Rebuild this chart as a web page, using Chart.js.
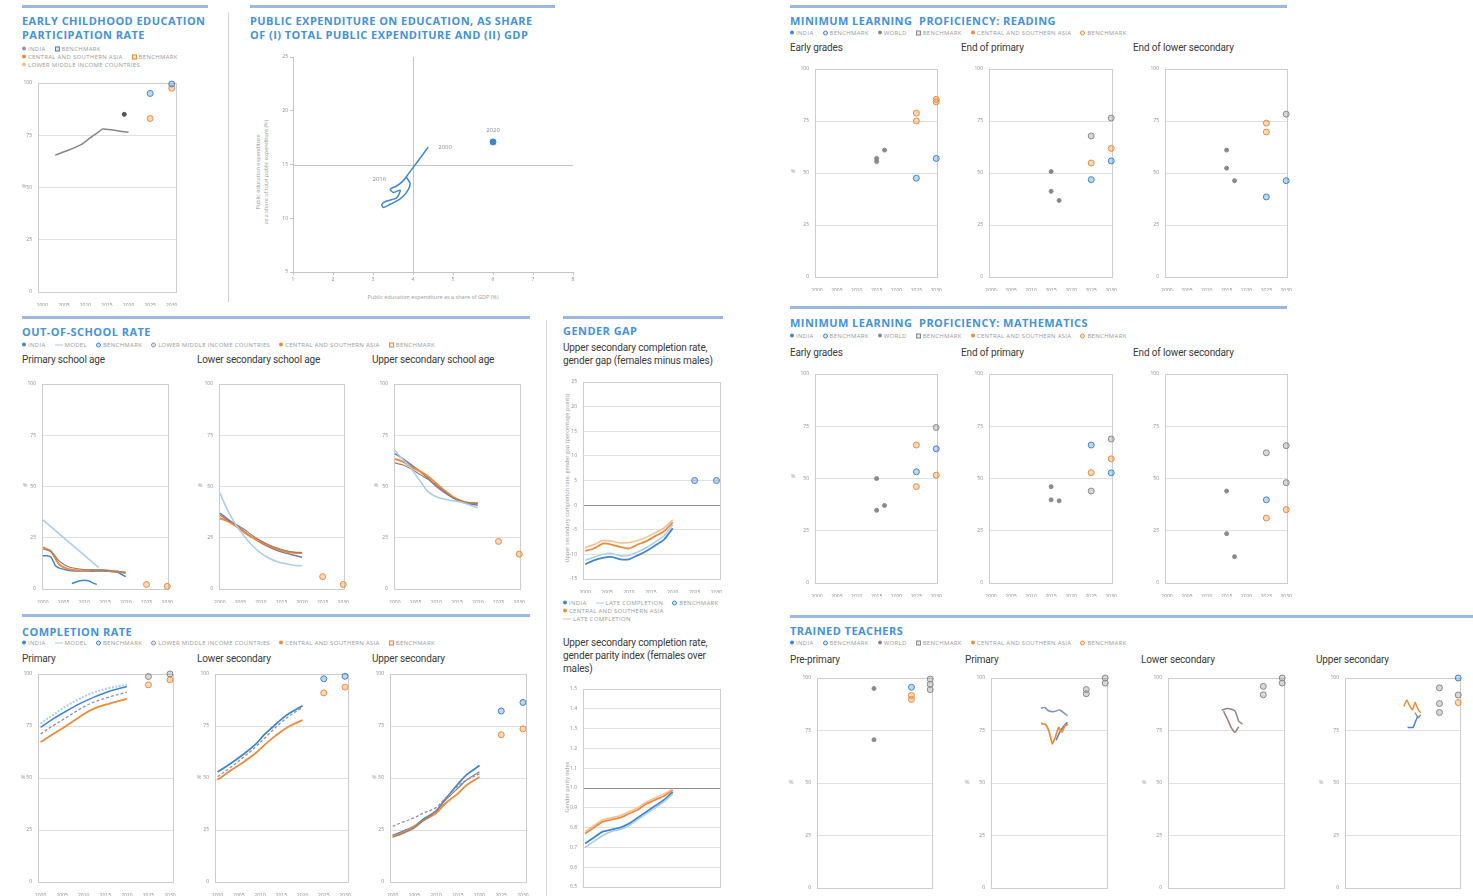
<!DOCTYPE html>
<html>
<head>
<meta charset="utf-8">
<title>SDG 4 country profile</title>
<script src="https://cdn.jsdelivr.net/npm/chart.js@4.4.0/dist/chart.umd.min.js"></script>
<style>
  html, body { margin: 0; padding: 0; background: #fff; }
  body { position: relative; width: 1473px; height: 896px; overflow: hidden; }
  canvas { position: absolute; }
  .bar { position: absolute; height: 3px; background: #9bb9e0; }
  .vr { position: absolute; width: 1px; background: #d6d6d6; }
  .tx { position: absolute; white-space: nowrap; transform: translateY(-50%); }
  .cx { position: absolute; white-space: nowrap; transform: translate(-50%, -50%); }
  .vt { position: absolute; white-space: nowrap; transform: translate(-50%, -50%) rotate(-90deg); }
  .ttl { font: 700 11px/13px "Open Sans", sans-serif; color: #4393dc; letter-spacing: .45px; }
  .sub { font: 10px/12px Roboto, sans-serif; color: #3a3a3a; letter-spacing: -.15px; }
  .lg { font: 6px/7px "Open Sans", sans-serif; color: #9a9a9a; letter-spacing: .3px; }
  .lg span { margin-right: 9px; }
  .lg i { display: inline-block; vertical-align: middle; margin-right: 2px; }
  .d { width: 4px; height: 4px; border-radius: 50%; }
  .q { width: 3px; height: 3px; border: 1px solid; }
  .o { width: 3px; height: 3px; border: 1px solid; border-radius: 50%; }
  .l { width: 8px; height: 1px; }
  .ax { font: 5.5px/6px "Open Sans", sans-serif; color: #9a9a9a; }
</style>
</head>
<body>
<script>
// ---- axes ----
const yearTicks = [2000, 2005, 2010, 2015, 2020, 2025, 2030];
const pctTicks = [0, 25, 50, 75, 100];
const benchYears = [2025, 2030];

// ---- early childhood education participation rate ----
const ecYears = [2003, 2006, 2009, 2010, 2011, 2013, 2014, 2016, 2018, 2020];
const ecIndia = [65.5, 67.8, 70.5, 72, 73.6, 76.5, 78, 77.6, 76.9, 76.4];
const ecLmicYears = [2019];
const ecLmic = [85];
const ecBenchIndia = [95, 99.5];
const ecBenchRegion = [83, 97.5];

// ---- public expenditure (% of GDP vs % of total public expenditure) ----
const expGdp = [4.38, 3.88, 3.76, 3.59, 3.43, 3.51, 3.68, 3.59, 3.34, 3.22, 3.26, 3.43, 3.68, 3.84, 3.93, 3.84];
const expTotal = [16.6, 14.1, 13.5, 13.0, 12.7, 12.4, 12.6, 11.9, 11.6, 11.3, 11.0, 11.3, 11.8, 12.4, 13.2, 13.8];
const expLatestGdp = [6.0];
const expLatestTotal = [17.1];
const expXTicks = [1, 2, 3, 4, 5, 6, 7, 8];
const expYTicks = [5, 10, 15, 20, 25];
const expRefGdp = 4;
const expRefTotal = 15;
const expLabelText = ['2000', '2016', '2020'];

// ---- minimum proficiency: reading (grey = world, blue = India, orange = region) ----
const rdEarlyWorldYears = [2015, 2015, 2017];
const rdEarlyWorld = [57, 55.5, 61];
const rdEarlyIndia = [47.5, 57];
const rdEarlyRegionYears = [2025, 2025, 2030, 2030];
const rdEarlyRegion = [78.8, 75, 85.4, 84.2];

const rdPrimWorldYears = [2015, 2015, 2017, 2025, 2030];
const rdPrimWorld = [50.7, 41.2, 36.8, 67.8, 76.4];
const rdPrimIndia = [46.8, 55.8];
const rdPrimRegion = [54.8, 61.8];

const rdLowWorldYears = [2015, 2015, 2017, 2030];
const rdLowWorld = [61, 52.3, 46.3, 78.3];
const rdLowIndia = [38.5, 46.3];
const rdLowRegionYears = [2025, 2025];
const rdLowRegion = [74, 69.7];

// ---- minimum proficiency: mathematics ----
const mtEarlyWorldYears = [2015, 2015, 2017, 2030];
const mtEarlyWorld = [50, 34.8, 37.1, 74.4];
const mtEarlyIndia = [53.2, 64.2];
const mtEarlyRegionYears = [2025, 2025, 2030];
const mtEarlyRegion = [66, 46.1, 51.6];

const mtPrimWorldYears = [2015, 2015, 2017, 2025, 2030];
const mtPrimWorld = [46.1, 39.8, 39.3, 44, 68.9];
const mtPrimIndia = [66, 52.7];
const mtPrimRegion = [52.8, 59.4];

const mtLowWorldYears = [2015, 2015, 2017, 2025, 2030, 2030];
const mtLowWorld = [44, 23.6, 12.6, 62.3, 65.7, 48];
const mtLowIndiaYears = [2025];
const mtLowIndia = [39.8];
const mtLowRegion = [31.1, 35.1];

// ---- out-of-school rate ----
const oosPriYears = [2000, 2001, 2002, 2003, 2004, 2006, 2008, 2010, 2012, 2014, 2016, 2018, 2020];
const oosPriIndia = [16.2, 16.2, 15.5, 11.5, 10.2, 9.2, 8.8, 8.8, 8.7, 8.8, 8.6, 8.2, 6.0];
const oosPriRegion = [20.4, 19.5, 18.4, 15.0, 11.8, 9.8, 9.2, 9.0, 9.1, 9.3, 8.9, 8.5, 7.8];
const oosPriLmic = [19.5, 19, 18, 16, 13.5, 11, 10, 9.5, 9.3, 9.2, 9, 8.6, 8.2];
const oosPriModelYears = [2000, 2013.5];
const oosPriModel = [33.7, 10.4];
const oosPriSurveyYears = [2007, 2008, 2009, 2010, 2011, 2012, 2013];
const oosPriSurvey = [2.6, 3.4, 4.0, 4.3, 4.0, 3.0, 2.2];
const oosPriBench = [2.2, 1.3];

const oosYears = [2000, 2002, 2004, 2006, 2008, 2010, 2012, 2014, 2016, 2018, 2020];
const oosLowModel = [46.9, 38, 31, 25.5, 21, 17.5, 15, 13.3, 12.3, 11.6, 11.3];
const oosLowIndia = [37, 34, 31, 28, 25, 22.5, 20.5, 18.8, 17.5, 16.5, 15.5];
const oosLowRegion = [34.5, 33, 30.5, 27.5, 25, 23, 21, 19.5, 18.3, 17.7, 17.5];
const oosLowLmic = [36, 33.5, 31.5, 29, 26, 23.5, 21.5, 20, 18.8, 18, 17.8];
const oosLowBench = [6, 2.2];

const oosUppModel = [67.6, 63, 58.5, 53, 47.5, 45, 43.8, 43, 42.3, 41, 39.5];
const oosUppIndia = [66, 63.5, 60.5, 57.5, 54, 50, 47, 44.5, 42.5, 41.5, 41];
const oosUppRegion = [63.5, 62, 59.5, 57.5, 55, 51.5, 48, 45, 43, 42, 42];
const oosUppLmic = [61.5, 60.5, 58.5, 56, 53.5, 50.5, 47.5, 44.5, 43, 42, 41.5];
const oosUppBench = [23.2, 17];

// ---- completion rate ----
const cmpPriYears = [2000, 2003, 2006, 2009, 2012, 2016, 2020];
const cmpPriModel = [76.2, 80.5, 84.6, 88, 90.9, 93.3, 94.8];
const cmpPriIndia = [74.3, 78.5, 82.2, 85.6, 88.5, 91.7, 94];
const cmpPriLmic = [71.2, 75.3, 79.1, 83, 86.2, 89, 91.2];
const cmpPriRegion = [67.3, 71.3, 75.1, 79.3, 83, 85.8, 88];
const cmpPriBenchIndia = [98.8, 100];
const cmpPriBenchRegion = [94.8, 97.2];

const cmpLowYears = [2000, 2003, 2006, 2009, 2011, 2013, 2015, 2017, 2020];
const cmpLowIndia = [52.9, 56.8, 61.3, 66.3, 70.8, 74.5, 78.2, 81.2, 84.7];
const cmpLowLmic = [50.6, 55, 59.8, 65, 69, 73, 76.8, 80, 84];
const cmpLowRegion = [49.1, 53.5, 57.5, 62, 65.8, 69.3, 72.4, 75, 77.8];
const cmpLowBenchIndia = [97.7, 98.9];
const cmpLowBenchRegion = [90.9, 93.7];

const cmpUppYears = [2000, 2002, 2005, 2007, 2010, 2012, 2015, 2017, 2020];
const cmpUppIndia = [22.4, 24, 26.8, 30, 34.2, 39.5, 47, 51.5, 56];
const cmpUppLmic = [26.8, 28.5, 30.9, 33, 35.8, 40, 46, 49, 52];
const cmpUppRegion = [22, 23.5, 26.5, 29.5, 33, 37.5, 42.5, 46.5, 50.5];
const cmpUppModel = [21.5, 23, 26, 29.5, 34, 39, 45, 49, 53];
const cmpUppBenchIndia = [82.2, 86.3];
const cmpUppBenchRegion = [70.8, 73.6];

// ---- gender gap ----
const ggYears = [2000, 2002, 2004, 2006, 2008, 2010, 2012, 2014, 2016, 2018, 2020];
const ggTicks = [-15, -10, -5, 0, 5, 10, 15, 20, 25];
const ggIndia = [-12, -11.2, -10.7, -10.5, -11, -11, -10.2, -9.3, -8.2, -7, -4.7];
const ggIndiaLate = [-11.2, -10.6, -10, -9.8, -10.3, -10.2, -9.5, -8.6, -7.5, -6.2, -4];
const ggRegion = [-9.3, -8.8, -7.8, -8, -8.5, -8.8, -8, -7.3, -6.3, -5.3, -3.5];
const ggRegionLate = [-8.6, -8, -7.2, -7.3, -7.7, -7.6, -7.2, -6.5, -5.6, -4.6, -3];
const ggBench = [5, 5];

const gpiTicks = [0.5, 0.6, 0.7, 0.8, 0.9, 1.0, 1.1, 1.2, 1.3, 1.4, 1.5];
const gpiIndia = [0.72, 0.75, 0.78, 0.79, 0.80, 0.82, 0.85, 0.88, 0.91, 0.94, 0.98];
const gpiIndiaLate = [0.70, 0.73, 0.76, 0.78, 0.79, 0.81, 0.84, 0.87, 0.90, 0.93, 0.97];
const gpiRegion = [0.77, 0.80, 0.83, 0.84, 0.85, 0.87, 0.89, 0.92, 0.94, 0.96, 0.99];
const gpiRegionLate = [0.78, 0.81, 0.84, 0.85, 0.86, 0.88, 0.90, 0.93, 0.95, 0.97, 0.995];

// ---- trained teachers ----
const tchPreWorldYears = [2015, 2015, 2030, 2030, 2030];
const tchPreWorld = [95, 70.6, 99.5, 97, 94.5];
const tchPreIndiaYears = [2025];
const tchPreIndia = [95.6];
const tchPreRegionYears = [2025, 2025];
const tchPreRegion = [91.7, 89.8];

const tchPriWorldYears = [2013, 2014, 2015, 2016.5, 2018, 2020];
const tchPriWorld = [85.6, 86, 84.4, 84, 84.8, 82];
const tchPriRegionYears = [2013, 2014.3, 2015.1, 2016, 2016.8, 2017.7, 2018.5, 2019.4, 2020.2];
const tchPriRegion = [78.4, 77.8, 74.9, 68.7, 71.8, 76.5, 74.2, 77.3, 78];
const tchPriIndiaYears = [2017, 2018, 2019, 2020];
const tchPriIndia = [70.4, 74.2, 77, 78.9];
const tchPriBenchYears = [2025, 2025, 2030, 2030];
const tchPriBench = [94.5, 92.5, 100, 97.6];

const tchLowWorldYears = [2014, 2015.5, 2017.5, 2018.5, 2019.5];
const tchLowWorld = [84.6, 85.5, 84.3, 79.5, 78];
const tchLowIndiaYears = [2014.5, 2015.5, 2016.5, 2017.5, 2018.5];
const tchLowIndia = [84.2, 80.5, 76.5, 74.2, 76.8];
const tchLowBenchYears = [2025, 2025, 2030, 2030];
const tchLowBench = [96, 92, 100, 97.6];

const tchUppRegionYears = [2015.5, 2016.3, 2017, 2017.8, 2018.5, 2019.3, 2020];
const tchUppRegion = [86.5, 89.5, 87, 84.8, 88.5, 85, 83.5];
const tchUppIndiaYears = [2016.5, 2018, 2018.7, 2019.3];
const tchUppIndia = [76.5, 76.5, 79.7, 82];
const tchUppWorldYears = [2018.5, 2019.3, 2020];
const tchUppWorld = [83.5, 81, 82.5];
const tchUppBenchWorldYears = [2025, 2025, 2025, 2030];
const tchUppBenchWorld = [95.3, 87.8, 83.6, 91.9];
const tchUppBenchIndiaYears = [2030];
const tchUppBenchIndia = [100];
const tchUppBenchRegionYears = [2030];
const tchUppBenchRegion = [88.3];

// ---- colours ----
const C = {
  india: '#3f86d0', model: '#a8cdef', lmic: '#8e8fb8', region: '#ef8a3b',
  regionLt: '#f6bf93', world: '#8a8a8a', brown: '#9a7e70', blueGrey: '#7d93b5'
};

Chart.defaults.font.family = 'Open Sans';
Chart.defaults.font.size = 5;
Chart.defaults.color = '#8c8c8c';
Chart.defaults.animation = false;
Chart.defaults.plugins.legend.display = false;
Chart.defaults.plugins.tooltip.enabled = false;

const PL = 24, PT = 6, PR = 6, PB = 14;
const pts = (xs, ys) => xs.map((x, i) => ({ x: x, y: ys[i] }));

function line(xs, ys, color, w, dash, tension) {
  return {
    data: pts(xs, ys), showLine: true, clip: false, fill: false,
    borderColor: color, borderWidth: w || 1.5, borderDash: dash || [],
    pointRadius: 0, tension: tension === undefined ? 0.35 : tension
  };
}

function dots(xs, ys, color) {
  const isBench = c => c.raw && c.raw.x >= 2025;
  return {
    data: pts(xs, ys), showLine: false, clip: false,
    pointRadius: c => (isBench(c) ? 3 : 2),
    pointBackgroundColor: c => (isBench(c) ? color + '55' : color),
    pointBorderColor: color, pointBorderWidth: 1
  };
}

const framePlugin = {
  id: 'frame',
  beforeDatasetsDraw(chart) {
    const a = chart.chartArea, g = chart.ctx;
    g.save();
    g.strokeStyle = '#cdcdcd';
    g.lineWidth = 1;
    g.strokeRect(Math.round(a.left) + 0.5, Math.round(a.top) + 0.5, Math.round(a.width), Math.round(a.height));
    g.restore();
  }
};

function makeCanvas(box) {
  const cv = document.createElement('canvas');
  cv.width = box[2] - box[0] + PL + PR;
  cv.height = box[3] - box[1] + PT + PB;
  cv.style.left = (box[0] - PL) + 'px';
  cv.style.top = (box[1] - PT) + 'px';
  document.body.appendChild(cv);
  return cv;
}

function plot(box, datasets, o) {
  o = o || {};
  const yT = o.yTicks || pctTicks;
  const xT = o.xTicks || yearTicks;
  return new Chart(makeCanvas(box), {
    type: 'scatter',
    data: { datasets: datasets },
    options: {
      responsive: false,
      layout: { padding: { left: 0, top: PT, right: PR, bottom: 0 } },
      scales: {
        x: {
          type: 'linear', min: o.xMin, max: o.xMax,
          afterBuildTicks: s => { s.ticks = xT.map(v => ({ value: v })); },
          afterFit: s => { s.height = PB; },
          grid: { display: false }, border: { display: false },
          ticks: { padding: 3, maxRotation: 0, autoSkip: false, callback: v => String(v) }
        },
        y: {
          type: 'linear', min: yT[0], max: yT[yT.length - 1],
          afterBuildTicks: s => { s.ticks = yT.map(v => ({ value: v })); },
          afterFit: s => { s.width = PL; },
          grid: {
            drawTicks: false,
            color: c => (o.zero !== undefined && c.tick && Math.abs(c.tick.value - o.zero) < 1e-9) ? '#8f8f8f' : '#e0e0e0'
          },
          border: { display: false },
          ticks: { padding: 6, autoSkip: false, callback: o.yFmt || (v => String(v)) }
        }
      }
    },
    plugins: [framePlugin]
  });
}

// ---- page text helpers ----
function T(x, y, cls, html, extra) {
  const d = document.createElement('div');
  d.className = cls;
  d.style.left = x + 'px';
  d.style.top = y + 'px';
  if (extra) d.style.cssText += extra;
  d.innerHTML = html;
  document.body.appendChild(d);
  return d;
}
function box(cls, x, y, w, h) {
  const d = document.createElement('div');
  d.className = cls;
  d.style.left = x + 'px'; d.style.top = y + 'px';
  if (w) d.style.width = w + 'px';
  if (h) d.style.height = h + 'px';
  document.body.appendChild(d);
}
function legend(x, y, items) {
  const html = items.map(it => {
    const st = it[0] === 'd' || it[0] === 'l' ? 'background:' + it[1] : 'border-color:' + it[1] + ';background:' + it[1] + '33';
    return '<span><i class="' + it[0] + '" style="' + st + '"></i>' + it[2] + '</span>';
  }).join('');
  T(x, y, 'tx lg', html);
}

// ---- section rules ----
box('bar', 22, 5, 186);
box('bar', 250, 5, 305);
box('bar', 790, 5, 497);
box('bar', 22, 316, 508);
box('bar', 563, 316, 160);
box('bar', 790, 306, 497);
box('bar', 22, 614, 508);
box('bar', 790, 615, 683);
box('vr', 228, 12, 0, 290);
box('vr', 546, 320, 0, 576);

// ---- titles ----
T(22, 20, 'tx ttl', 'EARLY CHILDHOOD EDUCATION');
T(22, 34, 'tx ttl', 'PARTICIPATION RATE');
T(250, 20, 'tx ttl', 'PUBLIC EXPENDITURE ON EDUCATION, AS SHARE');
T(250, 34, 'tx ttl', 'OF (I) TOTAL PUBLIC EXPENDITURE AND (II) GDP');
T(790, 20, 'tx ttl', 'MINIMUM LEARNING&nbsp; PROFICIENCY: READING');
T(790, 322, 'tx ttl', 'MINIMUM LEARNING&nbsp; PROFICIENCY: MATHEMATICS');
T(22, 331, 'tx ttl', 'OUT-OF-SCHOOL RATE');
T(563, 330, 'tx ttl', 'GENDER GAP');
T(22, 631, 'tx ttl', 'COMPLETION RATE');
T(790, 630, 'tx ttl', 'TRAINED TEACHERS');

// ---- legends ----
const legCountry = [['d', C.india, 'INDIA'], ['o', C.india, 'BENCHMARK'], ['d', C.world, 'WORLD'], ['q', C.world, 'BENCHMARK'],
  ['d', C.region, 'CENTRAL AND SOUTHERN ASIA'], ['o', C.region, 'BENCHMARK']];
const legTrend = [['d', C.india, 'INDIA'], ['l', C.model, 'MODEL'], ['o', C.india, 'BENCHMARK'], ['o', C.lmic, 'LOWER MIDDLE INCOME COUNTRIES'],
  ['d', C.region, 'CENTRAL AND SOUTHERN ASIA'], ['q', C.region, 'BENCHMARK']];
legend(22, 49, [['d', C.lmic, 'INDIA'], ['q', C.india, 'BENCHMARK']]);
legend(22, 57, [['d', C.region, 'CENTRAL AND SOUTHERN ASIA'], ['q', C.region, 'BENCHMARK']]);
legend(22, 65, [['d', C.regionLt, 'LOWER MIDDLE INCOME COUNTRIES']]);
legend(790, 33, legCountry);
legend(790, 336, legCountry);
legend(790, 643, legCountry);
legend(22, 345, legTrend);
legend(22, 643, legTrend);
legend(563, 603, [['d', C.india, 'INDIA'], ['l', C.model, 'LATE COMPLETION'], ['o', C.india, 'BENCHMARK']]);
legend(563, 611, [['d', C.region, 'CENTRAL AND SOUTHERN ASIA']]);
legend(563, 619, [['l', C.regionLt, 'LATE COMPLETION']]);

// ---- panel subtitles ----
T(790, 48, 'tx sub', 'Early grades');
T(961, 48, 'tx sub', 'End of primary');
T(1133, 48, 'tx sub', 'End of lower secondary');
T(790, 353, 'tx sub', 'Early grades');
T(961, 353, 'tx sub', 'End of primary');
T(1133, 353, 'tx sub', 'End of lower secondary');
T(22, 360, 'tx sub', 'Primary school age');
T(197, 360, 'tx sub', 'Lower secondary school age');
T(372, 360, 'tx sub', 'Upper secondary school age');
T(22, 659, 'tx sub', 'Primary');
T(197, 659, 'tx sub', 'Lower secondary');
T(372, 659, 'tx sub', 'Upper secondary');
T(790, 660, 'tx sub', 'Pre-primary');
T(965, 660, 'tx sub', 'Primary');
T(1141, 660, 'tx sub', 'Lower secondary');
T(1316, 660, 'tx sub', 'Upper secondary');
T(563, 348, 'tx sub', 'Upper secondary completion rate,');
T(563, 361, 'tx sub', 'gender gap (females minus males)');
T(563, 643, 'tx sub', 'Upper secondary completion rate,');
T(563, 656, 'tx sub', 'gender parity index (females over');
T(563, 669, 'tx sub', 'males)');

// ---- axis unit labels ----
[[24, 186], [793, 171], [793, 476], [25, 485], [200, 485], [376, 485], [23, 777], [199, 777], [374, 777],
  [791, 782], [967, 782], [1144, 782], [1321, 782]].forEach(p => T(p[0], p[1], 'cx ax', '%'));
T(433, 297, 'cx ax', 'Public education expenditure as a share of GDP (%)');
T(258, 172, 'vt ax', 'Public education expenditure');
T(266, 172, 'vt ax', 'as a share of total public expenditure (%)');
T(567, 478, 'vt ax', 'Upper secondary completion rate, gender gap (percentage points)');
T(567, 787, 'vt ax', 'Gender parity index');

// ---- early childhood ----
plot([38, 80, 176, 292], [
  line(ecYears, ecIndia, '#858585', 1.5, null, 0.2),
  dots(ecLmicYears, ecLmic, '#555555'),
  dots(benchYears, ecBenchIndia, C.india),
  dots(benchYears, ecBenchRegion, C.region)
], { xMin: 1999, xMax: 2031 });

// ---- public expenditure scatter ----
(function () {
  const refLines = {
    id: 'refLines',
    beforeDatasetsDraw(chart) {
      const a = chart.chartArea, g = chart.ctx;
      const x = Math.round(chart.scales.x.getPixelForValue(expRefGdp)) + 0.5;
      const y = Math.round(chart.scales.y.getPixelForValue(expRefTotal)) + 0.5;
      g.save();
      g.strokeStyle = '#c4c4c4';
      g.lineWidth = 1;
      g.beginPath();
      g.moveTo(x, a.top); g.lineTo(x, a.bottom);
      g.moveTo(a.left, y); g.lineTo(a.right, y);
      g.stroke();
      g.restore();
    }
  };
  const yearTags = {
    id: 'yearTags',
    afterDatasetsDraw(chart) {
      const g = chart.ctx;
      const path = chart.getDatasetMeta(0).data;
      const dot = chart.getDatasetMeta(1).data[0];
      g.save();
      g.font = '6px "Open Sans"';
      g.fillStyle = '#8a8a8a';
      g.textBaseline = 'middle';
      g.textAlign = 'left';
      g.fillText(expLabelText[0], path[0].x + 10, path[0].y);
      g.textAlign = 'right';
      g.fillText(expLabelText[1], path[4].x - 4, path[4].y - 10);
      g.textAlign = 'center';
      g.fillText(expLabelText[2], dot.x, dot.y - 12);
      g.restore();
    }
  };
  const ax = (ticks) => ({
    type: 'linear', min: ticks[0], max: ticks[ticks.length - 1],
    afterBuildTicks: s => { s.ticks = ticks.map(v => ({ value: v })); },
    grid: { drawOnChartArea: false, drawTicks: true, tickLength: 3, color: '#c4c4c4' },
    border: { display: true, color: '#c4c4c4' },
    ticks: { padding: 2, autoSkip: false, maxRotation: 0, callback: v => String(v) }
  });
  const xs = ax(expXTicks), ys = ax(expYTicks);
  xs.afterFit = s => { s.height = PB; };
  ys.afterFit = s => { s.width = PL; };
  new Chart(makeCanvas([293, 57, 573, 272]), {
    type: 'scatter',
    data: {
      datasets: [
        { data: pts(expGdp, expTotal), showLine: true, clip: false, borderColor: C.india, borderWidth: 1.5,
          pointRadius: 0, tension: 0.25 },
        { data: pts(expLatestGdp, expLatestTotal), clip: false, pointRadius: 4,
          pointBackgroundColor: C.india, pointBorderColor: '#ffffff', pointBorderWidth: 1 }
      ]
    },
    options: {
      responsive: false,
      layout: { padding: { left: 0, top: PT, right: PR, bottom: 0 } },
      scales: { x: xs, y: ys }
    },
    plugins: [refLines, yearTags]
  });
})();

// ---- reading ----
const rdX = { xMin: 1999.5, xMax: 2030.25 };
plot([815, 66, 939, 277], [dots(rdEarlyWorldYears, rdEarlyWorld, C.world), dots(benchYears, rdEarlyIndia, C.india),
  dots(rdEarlyRegionYears, rdEarlyRegion, C.region)], rdX);
plot([989, 66, 1114, 277], [dots(rdPrimWorldYears, rdPrimWorld, C.world), dots(benchYears, rdPrimIndia, C.india),
  dots(benchYears, rdPrimRegion, C.region)], rdX);
plot([1165, 66, 1289, 277], [dots(rdLowWorldYears, rdLowWorld, C.world), dots(benchYears, rdLowIndia, C.india),
  dots(rdLowRegionYears, rdLowRegion, C.region)], rdX);

// ---- mathematics ----
plot([815, 371, 939, 583], [dots(mtEarlyWorldYears, mtEarlyWorld, C.world), dots(benchYears, mtEarlyIndia, C.india),
  dots(mtEarlyRegionYears, mtEarlyRegion, C.region)], rdX);
plot([989, 371, 1114, 583], [dots(mtPrimWorldYears, mtPrimWorld, C.world), dots(benchYears, mtPrimIndia, C.india),
  dots(benchYears, mtPrimRegion, C.region)], rdX);
plot([1165, 371, 1289, 583], [dots(mtLowWorldYears, mtLowWorld, C.world), dots(mtLowIndiaYears, mtLowIndia, C.india),
  dots(benchYears, mtLowRegion, C.region)], rdX);

// ---- out-of-school ----
const oosX = { xMin: 1999.8, xMax: 2030.2 };
plot([42, 381, 170, 589], [
  line(oosPriModelYears, oosPriModel, C.model, 1.5, null, 0),
  line(oosPriYears, oosPriLmic, C.brown, 1.2, null, 0.2),
  line(oosPriYears, oosPriRegion, C.region, 2, null, 0.2),
  line(oosPriYears, oosPriIndia, C.india, 1.5, null, 0.2),
  line(oosPriSurveyYears, oosPriSurvey, C.india, 1.5, null, 0.4),
  dots(benchYears, oosPriBench, C.region)
], oosX);
plot([219, 381, 346, 589], [
  line(oosYears, oosLowModel, C.model, 1.5),
  line(oosYears, oosLowLmic, C.brown, 1.2),
  line(oosYears, oosLowRegion, C.region, 2),
  line(oosYears, oosLowIndia, '#7a7a96', 1.5),
  dots(benchYears, oosLowBench, C.region)
], oosX);
plot([394, 381, 522, 589], [
  line(oosYears, oosUppModel, C.model, 1.5),
  line(oosYears, oosUppLmic, C.brown, 1.2),
  line(oosYears, oosUppRegion, C.region, 2),
  line(oosYears, oosUppIndia, '#7a7a96', 1.5),
  dots(benchYears, oosUppBench, C.region)
], oosX);

// ---- completion ----
const cmpX = { xMin: 1999.4, xMax: 2030.7 };
plot([38, 671, 173, 882], [
  line(cmpPriYears, cmpPriModel, C.model, 2, [2, 1.5]),
  line(cmpPriYears, cmpPriIndia, C.india, 1.5),
  line(cmpPriYears, cmpPriLmic, C.lmic, 1.3, [3, 2]),
  line(cmpPriYears, cmpPriRegion, C.region, 1.8),
  dots(benchYears, cmpPriBenchIndia, C.world),
  dots(benchYears, cmpPriBenchRegion, C.region)
], cmpX);
plot([215, 671, 348, 882], [
  line(cmpLowYears, cmpLowLmic, C.lmic, 1.3, [3, 2]),
  line(cmpLowYears, cmpLowRegion, C.region, 1.8),
  line(cmpLowYears, cmpLowIndia, C.india, 1.8),
  dots(benchYears, cmpLowBenchIndia, C.india),
  dots(benchYears, cmpLowBenchRegion, C.region)
], cmpX);
plot([390, 671, 526, 882], [
  line(cmpUppYears, cmpUppLmic, C.lmic, 1.3, [3, 2]),
  line(cmpUppYears, cmpUppModel, C.brown, 1.3),
  line(cmpUppYears, cmpUppRegion, C.region, 1.8),
  line(cmpUppYears, cmpUppIndia, C.india, 1.8),
  dots(benchYears, cmpUppBenchIndia, C.india),
  dots(benchYears, cmpUppBenchRegion, C.region)
], cmpX);

// ---- gender gap ----
const ggX = { xMin: 1999.5, xMax: 2030.8 };
plot([583, 379, 720, 579], [
  line(ggYears, ggRegionLate, C.regionLt, 1.5, null, 0.2),
  line(ggYears, ggRegion, C.region, 1.8, null, 0.2),
  line(ggYears, ggIndiaLate, C.model, 1.5, null, 0.2),
  line(ggYears, ggIndia, C.india, 1.8, null, 0.2),
  dots(benchYears, ggBench, C.india)
], Object.assign({ yTicks: ggTicks, zero: 0 }, ggX));
plot([583, 686, 720, 887], [
  line(ggYears, gpiRegionLate, C.regionLt, 1.5, null, 0.2),
  line(ggYears, gpiRegion, C.region, 1.8, null, 0.2),
  line(ggYears, gpiIndiaLate, C.model, 1.5, null, 0.2),
  line(ggYears, gpiIndia, C.india, 1.8, null, 0.2)
], Object.assign({ yTicks: gpiTicks, zero: 1, yFmt: v => v.toFixed(1) }, ggX));

// ---- trained teachers ----
const tchX = { xMin: 1999.8, xMax: 2030.4 };
plot([817, 675, 933, 888], [
  dots(tchPreWorldYears, tchPreWorld, C.world),
  dots(tchPreIndiaYears, tchPreIndia, C.india),
  dots(tchPreRegionYears, tchPreRegion, C.region)
], tchX);
plot([991, 675, 1108, 888], [
  line(tchPriWorldYears, tchPriWorld, C.blueGrey, 1.5, null, 0.2),
  line(tchPriRegionYears, tchPriRegion, C.region, 1.8, null, 0.1),
  line(tchPriIndiaYears, tchPriIndia, C.india, 1.5, null, 0.2),
  dots(tchPriBenchYears, tchPriBench, C.world)
], tchX);
plot([1168, 675, 1285, 888], [
  line(tchLowWorldYears, tchLowWorld, C.world, 1.5, null, 0.2),
  line(tchLowIndiaYears, tchLowIndia, C.brown, 1.5, null, 0.2),
  dots(tchLowBenchYears, tchLowBench, C.world)
], tchX);
plot([1345, 675, 1461, 888], [
  line(tchUppRegionYears, tchUppRegion, C.region, 1.5, null, 0.1),
  line(tchUppWorldYears, tchUppWorld, C.world, 1.3, null, 0.2),
  line(tchUppIndiaYears, tchUppIndia, C.india, 1.5, null, 0.1),
  dots(tchUppBenchWorldYears, tchUppBenchWorld, C.world),
  dots(tchUppBenchIndiaYears, tchUppBenchIndia, C.india),
  dots(tchUppBenchRegionYears, tchUppBenchRegion, C.region)
], tchX);
</script>
</body>
</html>
